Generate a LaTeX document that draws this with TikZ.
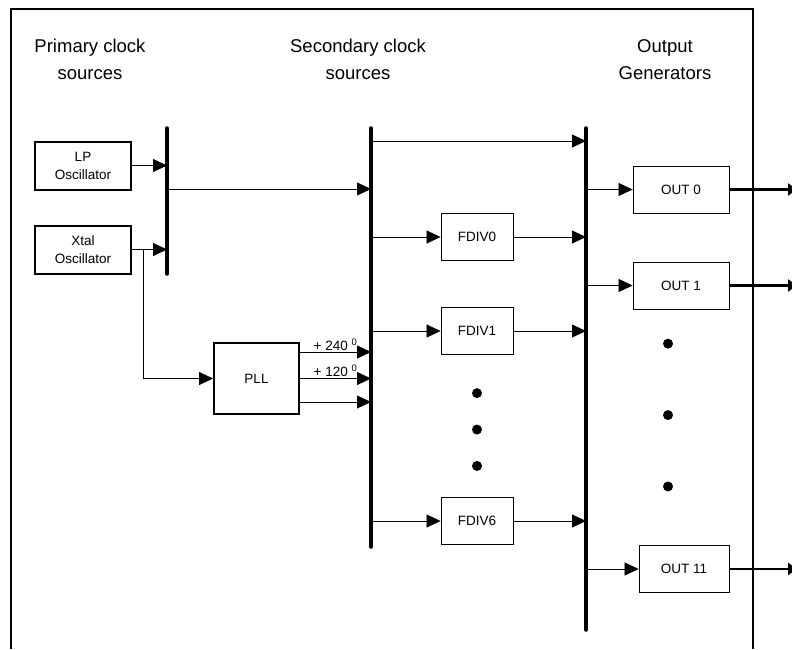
\documentclass[tikz,border=0pt]{standalone}
\usepackage{fontspec}
\setmainfont{Liberation Sans}
\usetikzlibrary{positioning}
\usepgflibrary{arrows.meta}

\begin{document}
\begin{tikzpicture}
    [x=1pt, y=-1pt,
    >={Triangle[length=14pt,width=13pt]},
    sig/.style={->, line width=0.8pt},
    outsig/.style={->, line width=2.6pt, >={Triangle[length=9pt,width=12pt]}},
    bus/.style={line width=3.5pt, line cap=round},
    osc/.style={draw, line width=2pt, inner sep=0pt, minimum width=96pt, minimum height=48pt, align=center, font=\fontsize{13.5}{18}\selectfont},
    div/.style={draw, line width=0.9pt, inner sep=0pt, minimum width=72pt, minimum height=47pt, font=\fontsize{13.5}{16}\selectfont},
    gen/.style={div, minimum width=96pt},
    head/.style={align=center, anchor=north, inner sep=0pt, font=\fontsize{18.5}{27}\selectfont},
    dot/.style={circle, fill=black, inner sep=0pt, minimum size=10pt}]
        \useasboundingbox (0,0) rectangle (792,649);
        %% Frame
        \draw[line width=1.6pt] (11,649) |- (753,9) -- (753,649);

        %% Headings
        \node[head] (h1) at (90,39) {Primary clock\\sources};
        \node[head] (h2) at (358,39) {Secondary clock\\sources};
        \node[head] (h3) at (665,39) {Output\\Generators};

        %% Buses
        \coordinate (b1t) at (167,128);
        \coordinate (b1b) at (167,274);
        \coordinate (b2t) at (371,128);
        \coordinate (b2b) at (371,547);
        \coordinate (b3t) at (586,128);
        \coordinate (b3b) at (586,630);
        \coordinate (edge) at (797,0);

        %% Primary sources
        \node[osc] (lp) at (83,165.5) {LP\\Oscillator};
        \node[osc] (xt) at (83,249.5) {Xtal\\Oscillator};
        \node[osc, minimum width=85pt, minimum height=71pt] (pll) at (256.5,378.5) {PLL};
        \coordinate (br) at (143,249.5);
        \coordinate (m1) at (167,189);
        \coordinate (m2) at (371,141);

        \draw[sig] (lp) -- (lp -| b1t);
        \draw[sig] (xt) -- (xt -| b1t);
        \draw[sig] (br) |- (pll);
        \draw[sig] (m1) -- (m1 -| b2t);
        \draw[sig] (m2) -- (m2 -| b3t);
        \draw[sig] ([yshift=-10pt]pll.north east) -- ([yshift=-10pt]pll.north east -| b2t)
            node[midway, above, inner sep=1pt, font=\fontsize{13.5}{16}\selectfont] {+ 240 \textsuperscript{0}};
        \draw[sig] (pll) -- (pll -| b2t)
            node[midway, above, inner sep=1pt, font=\fontsize{13.5}{16}\selectfont] {+ 120 \textsuperscript{0}};
        \draw[sig] ([yshift=13pt]pll.south east) -- ([yshift=13pt]pll.south east -| b2t);

        %% Dividers
        \node[div] (fd0) at (477,237) {FDIV0};
        \node[div] (fd1) at (477,331) {FDIV1};
        \node[div] (fd6) at (477,521) {FDIV6};
        \node[dot, below=33pt of fd1] (v1) {};
        \node[dot, below=26pt of v1] (v2) {};
        \node[dot, below=26pt of v2] (v3) {};
        \foreach \d in {fd0,fd1,fd6} {
            \draw[sig] (\d -| b2t) -- (\d);
            \draw[sig] (\d) -- (\d -| b3t);
        }

        %% Output generators
        \node[gen] (o0) at (681,189.5) {OUT 0};
        \node[gen] (o1) at (681,285.5) {OUT 1};
        \node[gen, minimum width=90pt] (o11) at (684,569) {OUT 11};
        \node[dot, below=29pt of o1, xshift=-13pt] (w1) {};
        \node[dot, below=61pt of w1] (w2) {};
        \node[dot, below=61pt of w2] (w3) {};
        \foreach \o in {o0,o1,o11} {
            \draw[sig] (\o -| b3t) -- (\o);
            \draw[outsig] (\o) -- (\o -| edge);
        }

        \draw[bus] (b1t) -- (b1b);
        \draw[bus] (b2t) -- (b2b);
        \draw[bus] (b3t) -- (b3b);
    \end{tikzpicture}
\end{document}
